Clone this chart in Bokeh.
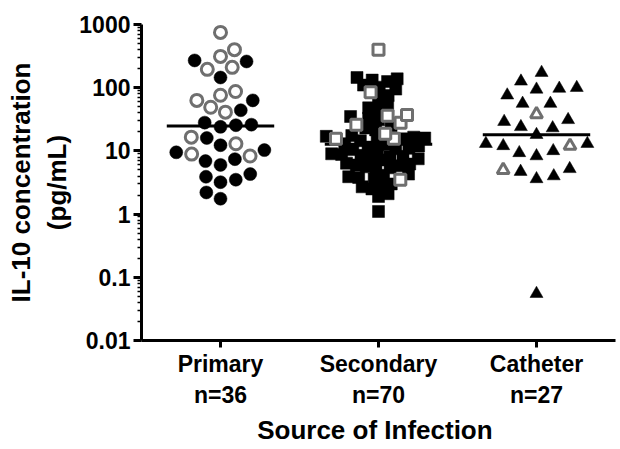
import numpy as np
from bokeh.plotting import figure
from bokeh.models import FixedTicker, Range1d
from bokeh.embed import file_html
from bokeh.resources import INLINE

# ---------------- data ----------------
categories = ["Primary", "Secondary", "Catheter"]

primary_filled = [260, 270, 145, 63, 44, 28, 25.5, 24, 26, 16, 12.3, 9.5, 10.3,
                  6.9, 6.0, 7.4, 4.3, 3.9, 3.2, 3.5, 2.2, 1.75]
primary_open = [750, 400, 313, 195, 210, 87, 49, 63, 76, 41, 16.5, 13, 8.3, 8.9]

secondary_filled = [145, 138, 132, 125,
                    110, 102, 95,
                    75, 68,
                    52, 48, 45,
                    35, 33, 31,
                    25, 23, 21.5,
                    17.5, 17, 16.5, 16, 15.5, 15, 14.5,
                    13, 12.5, 12, 11.5, 11, 10.8, 10.5, 10.2,
                    9.0, 8.8, 8.5, 8.2, 8.0, 7.8, 7.5, 7.2,
                    6.4, 6.2, 6.0, 5.8, 5.6, 5.4, 5.2,
                    4.3, 4.1, 3.9, 3.8, 3.6,
                    3.0, 2.8, 2.7, 2.5,
                    2.1, 1.9,
                    1.1]
secondary_open = [400, 85, 36, 26, 28, 37, 15.5, 15.5, 18.6, 3.5]

catheter_filled = [173, 126, 94, 100, 97, 76, 56, 56, 29, 31, 23, 24, 18, 13, 13,
                   12, 10, 9.3, 8.3, 4.7, 5.2, 4.0, 3.6, 0.055]
catheter_open = [38, 12, 5.0]

y_ticks = [0.01, 0.1, 1, 10, 100, 1000]
y_tick_labels = ["0.01", "0.1", "1", "10", "100", "1000"]

x_title = "Source of  Infection"
y_title = "IL-10 concentration\n(pg/mL)"

groups = [(primary_filled, primary_open),
          (secondary_filled, secondary_open),
          (catheter_filled, catheter_open)]

# ---------------- layout / style ----------------
W, H = 616, 447
ML, MR, MT, MB = 141, 1, 24, 100
frame_w = W - ML - MR
frame_h = H - MT - 107
ppu = frame_w / 3.0                     # px per category unit
ppd = frame_h / (np.log10(y_ticks[-1]) - np.log10(y_ticks[0]))  # px per decade

markers = ["circle", "square", "triangle"]
fill_size = [13, 12, 13]
open_size = [12, 11, 12]
spacing = [15.5, 10.0, 17.5]
GREY = "#6f6f6f"
FONT = "Liberation Sans"


def swarm(vals, d):
    ys = np.log10(np.asarray(vals, dtype=float)) * ppd
    order = np.argsort(ys)
    placed = []
    xs = np.zeros(len(ys))
    for k, i in enumerate(order):
        y = ys[i]
        cands = [0.0]
        for (px, py) in placed:
            dy = abs(py - y)
            if dy < d:
                dx = np.sqrt(d * d - dy * dy)
                cands += [px - dx, px + dx]
        sgn = 1 if k % 2 else -1
        cands.sort(key=lambda c: (round(abs(c), 6), sgn * c))
        for c in cands:
            if all((c - px) ** 2 + (y - py) ** 2 >= d * d - 1e-6 for px, py in placed):
                xs[i] = c
                break
        placed.append((xs[i], y))
    return xs / ppu


p = figure(width=W, height=H, x_range=Range1d(0, 3),
           y_range=Range1d(y_ticks[0], y_ticks[-1]), y_axis_type="log",
           output_backend="svg", toolbar_location=None,
           min_border_left=ML, min_border_right=MR,
           min_border_top=MT, min_border_bottom=MB)
p.grid.visible = False
p.outline_line_color = None
p.background_fill_color = "white"
p.border_fill_color = "white"

for gi, (filled, opened) in enumerate(groups):
    center = gi + 0.5
    allv = list(filled) + list(opened)
    offs = swarm(allv, spacing[gi])
    nf = len(filled)
    xf = center + offs[:nf]
    xo = center + offs[nf:]
    med = float(np.median(allv))
    p.segment(x0=[center - 0.34], x1=[center + 0.34], y0=[med], y1=[med],
              line_color="black", line_width=3)
    p.scatter(xf, filled, marker=markers[gi], size=fill_size[gi],
              fill_color="black", line_color="black", line_width=0.5)
    p.scatter(xo, opened, marker=markers[gi], size=open_size[gi],
              fill_color="white", line_color=GREY, line_width=3)

# axes
x_ticks = [i + 0.5 for i in range(len(categories))]
x_labels = ["%s\nn=%d" % (c, len(f) + len(o)) for c, (f, o) in zip(categories, groups)]

for ax in (p.xaxis[0], p.yaxis[0]):
    ax.axis_line_width = 3
    ax.axis_line_color = "black"
    ax.major_tick_line_width = 3
    ax.major_tick_in = 0
    ax.major_label_text_font = FONT
    ax.major_label_text_font_style = "bold"
    ax.major_label_text_font_size = "23px"
    ax.major_label_text_color = "black"
    ax.axis_label_text_font = FONT
    ax.axis_label_text_font_style = "bold"
    ax.axis_label_text_font_size = "26px"
    ax.axis_label_text_color = "black"

p.xaxis.ticker = FixedTicker(ticks=x_ticks)
p.xaxis.major_label_overrides = dict(zip(x_ticks, x_labels))
p.xaxis.major_tick_out = 7
p.xaxis.minor_tick_line_color = None
p.xaxis.major_label_standoff = 3
p.xaxis.axis_label = x_title
p.xaxis.axis_label_standoff = 4

minor = [m * 10.0 ** e for e in range(-2, 3) for m in range(2, 10)]
p.yaxis.ticker = FixedTicker(ticks=y_ticks, minor_ticks=minor)
p.yaxis.major_label_overrides = dict(zip(y_ticks, y_tick_labels))
p.yaxis.major_tick_out = 8
p.yaxis.minor_tick_out = 4
p.yaxis.minor_tick_in = 0
p.yaxis.minor_tick_line_width = 1.5
p.yaxis.major_label_standoff = 3
p.yaxis.axis_label = y_title
p.yaxis.axis_label_standoff = 4

open("out.html", "w").write(file_html(p, INLINE))
